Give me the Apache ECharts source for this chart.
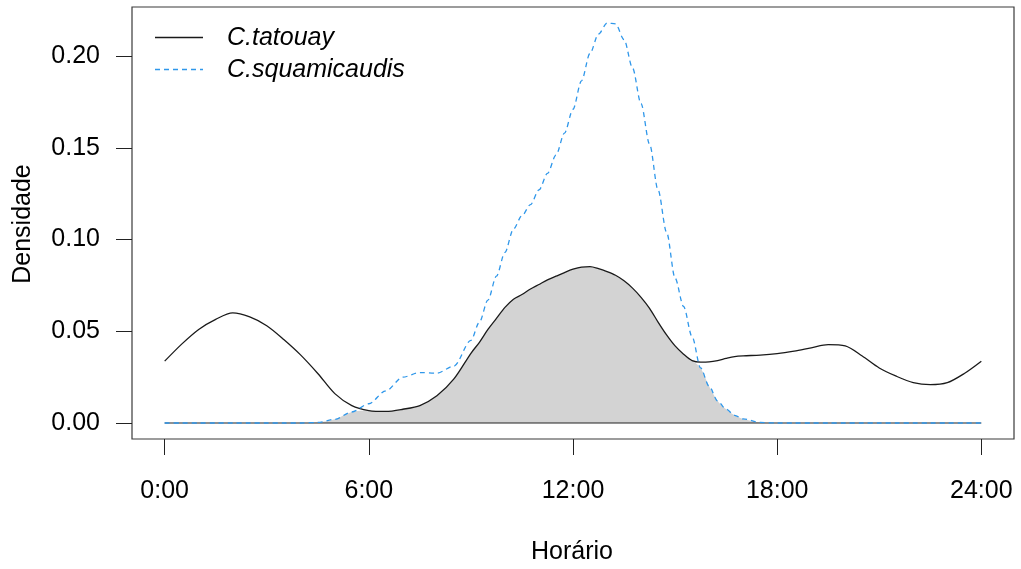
<!DOCTYPE html>
<html>
<head>
<meta charset="utf-8">
<script src="https://cdn.jsdelivr.net/npm/echarts@6/dist/echarts.min.js"></script>
<style>
html,body{margin:0;padding:0;background:#fff;}
#chart{width:1021px;height:569px;}
</style>
</head>
<body>
<div id="chart"></div>
<script>
// ---- data ----
const seriesNames = ['C.tatouay', 'C.squamicaudis'];
const hours = [0,0.5,1,1.5,2,2.5,3,3.5,4,4.5,5,5.5,6,6.5,7,7.5,8,8.5,
  9,9.25,9.5,9.75,10,10.25,10.5,10.75,11,11.25,11.5,11.75,12,12.25,12.5,12.75,
  13,13.25,13.5,13.75,14,14.25,14.5,14.75,15,15.25,15.5,15.75,16,16.25,16.5,16.75,
  17,17.5,18,18.5,19,19.5,20,20.5,21,21.5,22,22.5,23,23.5,24];
const tatouay = [0.0337,0.043,0.051,0.0565,0.060,0.0578,0.053,0.0455,0.037,0.027,0.016,0.0095,0.0068,0.0063,0.0075,0.0095,0.0148,0.024,
  0.038,0.044,0.051,0.057,0.063,0.0675,0.070,0.073,0.0755,0.078,0.080,0.082,0.0838,0.085,0.0852,0.0841,
  0.0825,0.0805,0.0775,0.0735,0.0685,0.0625,0.055,0.048,0.042,0.0375,0.034,0.0332,0.0333,0.034,0.0352,0.0362,
  0.0366,0.037,0.0378,0.0392,0.041,0.0427,0.042,0.0365,0.030,0.0255,0.022,0.0209,0.022,0.027,0.0337];
const squamicaudis = [0,0,0,0,0,0,0,0,0,0.0003,0.002,0.006,0.0105,0.0175,0.025,0.0275,0.0272,0.031,
  0.045,0.055,0.067,0.080,0.093,0.1057,0.113,0.119,0.127,0.136,0.146,0.158,0.171,0.1865,0.2015,0.212,
  0.218,0.2175,0.209,0.1935,0.174,0.152,0.127,0.104,0.079,0.0635,0.047,0.030,0.020,0.012,0.0075,0.0042,
  0.0022,0.0003,0,0,0,0,0,0,0,0,0,0,0,0,0];
const xTicks = [0, 6, 12, 18, 24];
const xTickLabels = ['0:00', '6:00', '12:00', '18:00', '24:00'];
const yTicks = [0, 0.05, 0.10, 0.15, 0.20];
const xTitle = 'Horário';
const yTitle = 'Densidade';

// ---- build ----
const pairs = (ys) => hours.map((h, i) => [h, ys[i]]);
const overlap = hours.map((h, i) => [h, Math.min(tatouay[i], squamicaudis[i])]);
const yMaxData = Math.max(...tatouay, ...squamicaudis);
const xr = xTicks[xTicks.length - 1] - xTicks[0];

const FONT = '"Liberation Sans", Arial, sans-serif';
const chart = echarts.init(document.getElementById('chart'), null, {renderer: 'canvas'});
chart.setOption({
  animation: false,
  backgroundColor: '#ffffff',
  grid: {left: 132, right: 7, top: 7, bottom: 130, show: true, borderColor: '#3a3a3a', borderWidth: 1.2, backgroundColor: 'transparent'},
  xAxis: {
    type: 'value', min: xTicks[0] - 0.04 * xr, max: xTicks[xTicks.length - 1] + 0.04 * xr,
    splitLine: {show: false},
    axisLine: {show: false, onZero: false},
    axisTick: {show: true, inside: false, length: 16, customValues: xTicks, lineStyle: {color: '#222', width: 1}},
    axisLabel: {customValues: xTicks, margin: 40, fontFamily: FONT, fontSize: 25, color: '#000',
      formatter: (v) => xTickLabels[xTicks.indexOf(v)] ?? ''}
  },
  yAxis: {
    type: 'value', min: -0.04 * yMaxData, max: yMaxData * 1.04,
    splitLine: {show: false},
    axisLine: {show: false, onZero: false},
    axisTick: {show: true, inside: false, length: 16, customValues: yTicks, lineStyle: {color: '#222', width: 1}},
    axisLabel: {customValues: yTicks, margin: 32, fontFamily: FONT, fontSize: 25, color: '#000',
      formatter: (v) => v.toFixed(2)}
  },
  series: [
    {type: 'line', data: overlap, showSymbol: false, smooth: 0.3, lineStyle: {width: 0, opacity: 0},
      areaStyle: {color: '#d3d3d3', opacity: 1, origin: 0}, z: 1, silent: true},
    {type: 'line', data: [[xTicks[0], 0], [xTicks[xTicks.length - 1], 0]], showSymbol: false,
      lineStyle: {color: '#222', width: 1.2}, z: 2, silent: true},
    {name: seriesNames[0], type: 'line', data: pairs(tatouay), showSymbol: false, smooth: 0.3,
      lineStyle: {color: '#1a1a1a', width: 1.3}, z: 3},
    {name: seriesNames[1], type: 'line', data: pairs(squamicaudis), showSymbol: false, smooth: 0.3, smoothMonotone: 'x',
      lineStyle: {color: '#2f97ea', width: 1.3, type: [5, 4]}, z: 4}
  ],
  graphic: [
    {type: 'text', x: 572, y: 552, style: {text: xTitle, font: '25px ' + FONT, fill: '#000', align: 'center', verticalAlign: 'middle'}},
    {type: 'text', x: 23, y: 224, rotation: Math.PI / 2,
      style: {text: yTitle, font: '25px ' + FONT, fill: '#000', align: 'center', verticalAlign: 'middle'}},
    {type: 'line', shape: {x1: 155, y1: 37.5, x2: 203, y2: 37.5}, style: {stroke: '#1a1a1a', lineWidth: 1.3}},
    {type: 'line', shape: {x1: 155, y1: 69.5, x2: 203, y2: 69.5}, style: {stroke: '#2f97ea', lineWidth: 1.3, lineDash: [5, 4]}},
    {type: 'text', x: 227, y: 38, style: {text: seriesNames[0], font: 'italic 25px ' + FONT, fill: '#000', verticalAlign: 'middle'}},
    {type: 'text', x: 227, y: 70, style: {text: seriesNames[1], font: 'italic 25px ' + FONT, fill: '#000', verticalAlign: 'middle'}}
  ]
});
</script>
</body>
</html>
